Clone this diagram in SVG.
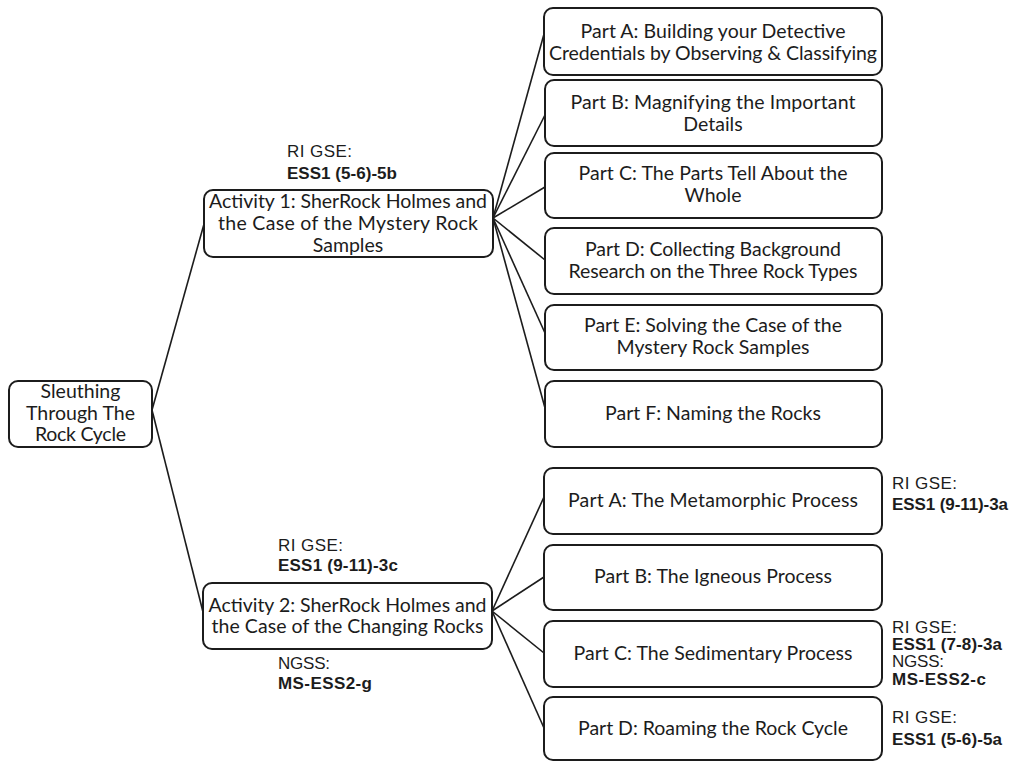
<svg xmlns="http://www.w3.org/2000/svg" width="1013" height="762" viewBox="0 0 1013 762">
<style>
.box{fill:#fff;stroke:#1c1c1c;stroke-width:2}
.t{font-family:Lato,"Open Sans","DejaVu Sans",sans-serif;font-size:19.5px;fill:#1c1c1c;text-anchor:middle}
.l{font-family:"Liberation Sans",Arial,sans-serif;font-size:17px;fill:#1c1c1c}
.b{font-weight:bold}
.c line{stroke:#1c1c1c;stroke-width:1.6}
</style>
<rect width="1013" height="762" fill="#fff"/>
<g id="connectors" class="c">
<line x1="152" y1="410" x2="204" y2="224"/>
<line x1="152" y1="410" x2="203" y2="612"/>
<line x1="493" y1="218" x2="544" y2="34"/>
<line x1="493" y1="218" x2="545" y2="115"/>
<line x1="493" y1="218" x2="545" y2="187"/>
<line x1="493" y1="218" x2="545" y2="260"/>
<line x1="493" y1="218" x2="545" y2="333"/>
<line x1="493" y1="218" x2="545" y2="408"/>
<line x1="492" y1="611" x2="544" y2="497"/>
<line x1="492" y1="611" x2="544" y2="577"/>
<line x1="492" y1="611" x2="544" y2="653"/>
<line x1="492" y1="611" x2="544" y2="728"/>
</g>
<g id="root">
<rect class="box" x="9" y="381" width="143" height="66" rx="9"/>
<text class="t" x="80.5" y="398">Sleuthing</text>
<text class="t" x="80.5" y="420" textLength="109">Through The</text>
<text class="t" x="80.5" y="441" textLength="91">Rock Cycle</text>
</g>
<g id="activity1">
<rect class="box" x="204" y="190" width="289" height="67" rx="9"/>
<text class="t" x="348" y="208" textLength="278">Activity 1: SherRock Holmes and</text>
<text class="t" x="348" y="230" textLength="260">the Case of the Mystery Rock</text>
<text class="t" x="348" y="252">Samples</text>
</g>
<g id="activity1-std">
<text class="l" x="287" y="157" textLength="65">RI GSE:</text>
<text class="l b" x="287" y="179" textLength="110">ESS1 (5-6)-5b</text>
</g>
<g id="a1-partA">
<rect class="box" x="544" y="8" width="338" height="67" rx="9"/>
<text class="t" x="713" y="38" textLength="265">Part A: Building your Detective</text>
<text class="t" x="713" y="60" textLength="328">Credentials by Observing &amp; Classifying</text>
</g>
<g id="a1-partB">
<rect class="box" x="545" y="80" width="337" height="66" rx="9"/>
<text class="t" x="713" y="109" textLength="285">Part B: Magnifying the Important</text>
<text class="t" x="713" y="131">Details</text>
</g>
<g id="a1-partC">
<rect class="box" x="545" y="153" width="337" height="65" rx="9"/>
<text class="t" x="713" y="180" textLength="269">Part C: The Parts Tell About the</text>
<text class="t" x="713" y="202">Whole</text>
</g>
<g id="a1-partD">
<rect class="box" x="545" y="228" width="337" height="66" rx="9"/>
<text class="t" x="713" y="256" textLength="256">Part D: Collecting Background</text>
<text class="t" x="713" y="278" textLength="289">Research on the Three Rock Types</text>
</g>
<g id="a1-partE">
<rect class="box" x="545" y="305" width="337" height="65" rx="9"/>
<text class="t" x="713" y="332" textLength="258">Part E: Solving the Case of the</text>
<text class="t" x="713" y="354" textLength="193">Mystery Rock Samples</text>
</g>
<g id="a1-partF">
<rect class="box" x="545" y="381" width="337" height="66" rx="9"/>
<text class="t" x="713" y="420" textLength="216">Part F: Naming the Rocks</text>
</g>
<g id="activity2">
<rect class="box" x="203" y="583" width="289" height="66" rx="9"/>
<text class="t" x="347.5" y="612" textLength="278">Activity 2: SherRock Holmes and</text>
<text class="t" x="347.5" y="633" textLength="272">the Case of the Changing Rocks</text>
</g>
<g id="activity2-std">
<text class="l" x="278" y="551" textLength="65">RI GSE:</text>
<text class="l b" x="278" y="571" textLength="120">ESS1 (9-11)-3c</text>
<text class="l" x="278" y="669" textLength="52">NGSS:</text>
<text class="l b" x="278" y="689" textLength="94">MS-ESS2-g</text>
</g>
<g id="a2-partA">
<rect class="box" x="544" y="468" width="338" height="66" rx="9"/>
<text class="t" x="713" y="507" textLength="290">Part A: The Metamorphic Process</text>
</g>
<g id="a2-partA-std">
<text class="l" x="892" y="489" textLength="65">RI GSE:</text>
<text class="l b" x="892" y="510" textLength="116">ESS1 (9-11)-3a</text>
</g>
<g id="a2-partB">
<rect class="box" x="544" y="545" width="338" height="65" rx="9"/>
<text class="t" x="713" y="583" textLength="238">Part B: The Igneous Process</text>
</g>
<g id="a2-partC">
<rect class="box" x="544" y="621" width="338" height="66" rx="9"/>
<text class="t" x="713" y="660" textLength="279">Part C: The Sedimentary Process</text>
</g>
<g id="a2-partC-std">
<text class="l" x="892" y="633" textLength="65">RI GSE:</text>
<text class="l b" x="892" y="650" textLength="110">ESS1 (7-8)-3a</text>
<text class="l" x="892" y="667" textLength="52">NGSS:</text>
<text class="l b" x="892" y="685" textLength="94">MS-ESS2-c</text>
</g>
<g id="a2-partD">
<rect class="box" x="544" y="697" width="338" height="63" rx="9"/>
<text class="t" x="713" y="735" textLength="270">Part D: Roaming the Rock Cycle</text>
</g>
<g id="a2-partD-std">
<text class="l" x="892" y="723" textLength="65">RI GSE:</text>
<text class="l b" x="892" y="745" textLength="110">ESS1 (5-6)-5a</text>
</g>
</svg>
